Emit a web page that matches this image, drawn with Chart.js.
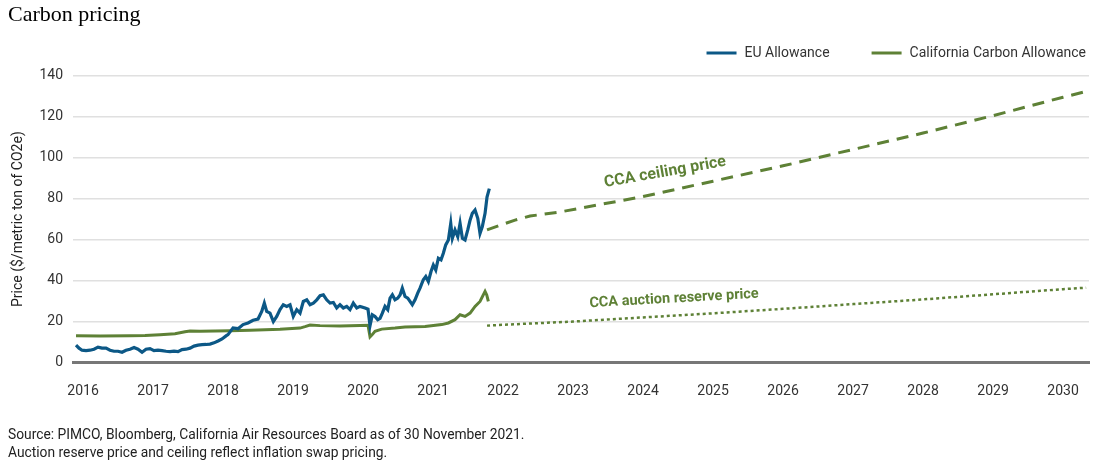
<!DOCTYPE html>
<html><head><meta charset="utf-8">
<script src="https://cdn.jsdelivr.net/npm/chart.js@4.4.1/dist/chart.umd.min.js"></script>
<style>html,body{margin:0;padding:0;background:#fff;}</style>
</head><body>
<canvas id="c" width="1101" height="464"></canvas>
<script>
// ---- data (fractional years, $/metric ton CO2e) ----
const euYears = [2015.900,2015.943,2015.986,2016.043,2016.100,2016.157,2016.214,2016.271,2016.329,2016.386,2016.443,2016.500,2016.557,2016.614,2016.671,2016.729,2016.786,2016.843,2016.900,2016.957,2017.014,2017.071,2017.129,2017.186,2017.243,2017.300,2017.357,2017.414,2017.471,2017.529,2017.586,2017.643,2017.700,2017.757,2017.814,2017.871,2017.929,2017.986,2018.043,2018.071,2018.143,2018.214,2018.286,2018.357,2018.429,2018.500,2018.553,2018.590,2018.624,2018.671,2018.719,2018.767,2018.814,2018.861,2018.910,2018.957,2019.004,2019.053,2019.100,2019.147,2019.196,2019.243,2019.290,2019.339,2019.386,2019.433,2019.481,2019.529,2019.576,2019.624,2019.671,2019.719,2019.767,2019.814,2019.861,2019.910,2019.957,2020.029,2020.071,2020.100,2020.133,2020.171,2020.210,2020.243,2020.276,2020.314,2020.353,2020.386,2020.419,2020.457,2020.496,2020.529,2020.561,2020.600,2020.639,2020.671,2020.704,2020.743,2020.781,2020.814,2020.861,2020.896,2020.933,2020.971,2021.004,2021.039,2021.076,2021.114,2021.147,2021.181,2021.219,2021.253,2021.276,2021.314,2021.353,2021.386,2021.419,2021.457,2021.496,2021.529,2021.561,2021.600,2021.639,2021.671,2021.704,2021.743,2021.771,2021.804];
const euPrices = [8.5,7,6,5.8,6,6.5,7.5,7,7,6,5.5,5.5,5,6,6.5,7.3,6.5,5,6.5,6.8,5.8,6,5.8,5.5,5.3,5.5,5.3,6.3,6.5,7,8,8.5,8.7,8.8,9,9.6,10.5,11.5,13,13.6,16.9,16.5,18.5,19.3,20.6,21.2,24.9,29,24.9,24.1,20,22.5,25.8,28.2,27.4,28.2,22.5,25.8,24.1,29.8,30.6,28.2,29,30.6,32.6,33,30.6,29,29.3,26.6,28.2,26.6,27.4,25.8,29,26.6,27.4,26.6,26,18,23.3,22.5,20.9,21.5,24.1,27.4,25.8,31.4,33,30.6,31.4,33,36.3,32.2,31.4,29.8,28.2,30.6,33.9,36.3,40.4,42,39.5,44.4,47.6,45.2,50.9,50.1,53.3,57.4,59.8,67.9,60.6,64.7,61.4,67.9,60.6,59.8,64.7,69.5,72.8,74.4,70.4,63,66.3,72.8,80.8,84.9];

const ccaYears = [2015.900,2016.243,2016.671,2016.886,2017.100,2017.314,2017.457,2017.529,2017.671,2017.886,2018.100,2018.386,2018.814,2019.100,2019.171,2019.243,2019.386,2019.671,2019.957,2020.071,2020.100,2020.129,2020.171,2020.267,2020.457,2020.600,2020.886,2021.124,2021.219,2021.314,2021.386,2021.457,2021.529,2021.600,2021.671,2021.743,2021.767,2021.790];
const ccaPrices = [13.1,12.9,13,13.2,13.6,14,15,15.4,15.3,15.4,15.5,15.8,16.2,16.8,17.5,18.3,18,17.8,18.1,18.2,12.5,13.5,15.2,16.3,16.8,17.3,17.6,18.5,19.3,20.9,23.3,22.5,24.1,27.4,29.8,34.7,33,29.8];

const ceilingYears = [2021.771,2021.957,2022.171,2022.386,2022.814,2024,2025,2026,2027,2028,2029,2030,2030.329];
const ceilingPrices = [64.7,67,69.5,71.5,73.5,81,88.5,96,104,112,120.5,129.5,132.3];

const reserveYears = [2021.771,2022,2023,2024,2025,2026,2027,2028,2029,2030,2030.329];
const reservePrices = [18,18.4,20,22,24,26.2,28.5,30.8,33.3,35.8,36.5];

const xTickYears = [2016,2017,2018,2019,2020,2021,2022,2023,2024,2025,2026,2027,2028,2029,2030];
const yTickValues = [0,20,40,60,80,100,120,140];

const seriesLabels = ['EU Allowance','California Carbon Allowance','CCA ceiling price','CCA auction reserve price'];
const lineLabels = [
  {text:'CCA ceiling price', x:2024.314, y:92.8, angle:-10, size:16},
  {text:'CCA auction reserve price', x:2024.443, y:31.1, angle:-3.2, size:14.5}
];

// ---- styles ----
const BLUE = '#0c5886', GREEN = '#5e8136';
const pts = (xs, ys) => xs.map((x, i) => ({x, y: ys[i]}));

const customLegend = {
  id: 'customLegend',
  afterDraw(chart) {
    const ctx = chart.ctx;
    ctx.save();
    ctx.font = '14px Roboto';
    ctx.textBaseline = 'middle';
    ctx.textAlign = 'left';
    const items = chart.data.datasets.filter(d => d.inLegend);
    let x = chart.width - 15;
    const y = 53;
    for (let i = items.length - 1; i >= 0; i--) {
      const it = items[i];
      const w = ctx.measureText(it.label).width;
      const tx = x - w;
      ctx.fillStyle = '#333';
      ctx.fillText(it.label, tx, y);
      ctx.strokeStyle = it.borderColor;
      ctx.lineWidth = 3;
      ctx.beginPath();
      ctx.moveTo(tx - 38, y);
      ctx.lineTo(tx - 8, y);
      ctx.stroke();
      x = tx - 38 - 42;
    }
    ctx.restore();
  }
};

const lineLabelPlugin = {
  id: 'lineLabels',
  afterDatasetsDraw(chart) {
    const ctx = chart.ctx, xs = chart.scales.x, ys = chart.scales.y;
    ctx.save();
    ctx.fillStyle = GREEN;
    ctx.textAlign = 'center';
    ctx.textBaseline = 'middle';
    lineLabels.forEach(l => {
      ctx.save();
      ctx.font = 'bold ' + l.size + 'px Roboto';
      ctx.translate(xs.getPixelForValue(l.x), ys.getPixelForValue(l.y));
      ctx.rotate(l.angle * Math.PI / 180);
      ctx.fillText(l.text, 0, 0);
      ctx.restore();
    });
    ctx.restore();
  }
};

new Chart(document.getElementById('c'), {
  type: 'line',
  data: {
    datasets: [
      {label: seriesLabels[0], data: pts(euYears, euPrices), borderColor: BLUE, backgroundColor: BLUE, borderWidth: 3.2, pointRadius: 0, inLegend: true},
      {label: seriesLabels[1], data: pts(ccaYears, ccaPrices), borderColor: GREEN, backgroundColor: GREEN, borderWidth: 3, pointRadius: 0, inLegend: true},
      {label: seriesLabels[2], data: pts(ceilingYears, ceilingPrices), borderColor: GREEN, borderWidth: 3, borderDash: [12, 8], pointRadius: 0},
      {label: seriesLabels[3], data: pts(reserveYears, reservePrices), borderColor: GREEN, borderWidth: 2.5, borderDash: [3, 3], pointRadius: 0}
    ]
  },
  options: {
    responsive: false,
    animation: false,
    devicePixelRatio: 1,
    layout: {padding: {left: 8, right: 12, top: 0, bottom: 0}},
    scales: {
      x: {
        type: 'linear',
        min: 2015.857,
        max: 2030.37,
        afterBuildTicks: s => { s.ticks = xTickYears.map(v => ({value: v})); },
        afterFit: s => { s.height = 40; },
        ticks: {callback: v => String(v), font: {family: 'Roboto', size: 14}, color: '#333', padding: 13, maxRotation: 0, autoSkip: false},
        grid: {display: false},
        border: {display: true, color: '#777', width: 3}
      },
      y: {
        min: 0,
        max: 140,
        afterBuildTicks: s => { s.ticks = yTickValues.map(v => ({value: v})); },
        afterFit: s => { s.width = 65; },
        ticks: {font: {family: 'Roboto', size: 14}, color: '#333', padding: 10},
        grid: {color: c => (c.tick && c.tick.value === 0) ? 'rgba(0,0,0,0)' : '#e0e0e0', lineWidth: 1.5, drawTicks: false},
        border: {display: false},
        title: {display: true, text: 'Price ($/metric ton of CO2e)', font: {family: 'Roboto', size: 14}, color: '#222', padding: {top: 2, bottom: 0}}
      }
    },
    plugins: {
      legend: {display: false},
      tooltip: {enabled: false},
      title: {
        display: true, text: 'Carbon pricing', align: 'start', color: '#000',
        font: {family: 'Liberation Serif', size: 22, weight: 'normal', lineHeight: '24px'},
        padding: {top: 3, bottom: 48.7}
      },
      subtitle: {
        display: true, position: 'bottom', align: 'start', color: '#222',
        text: ['Source: PIMCO, Bloomberg, California Air Resources Board as of 30 November 2021.', 'Auction reserve price and ceiling reflect inflation swap pricing.'],
        font: {family: 'Roboto', size: 13.8, lineHeight: '18.5px'},
        padding: {top: 23.5, bottom: 1}
      }
    }
  },
  plugins: [customLegend, lineLabelPlugin]
});
</script>
</body></html>
